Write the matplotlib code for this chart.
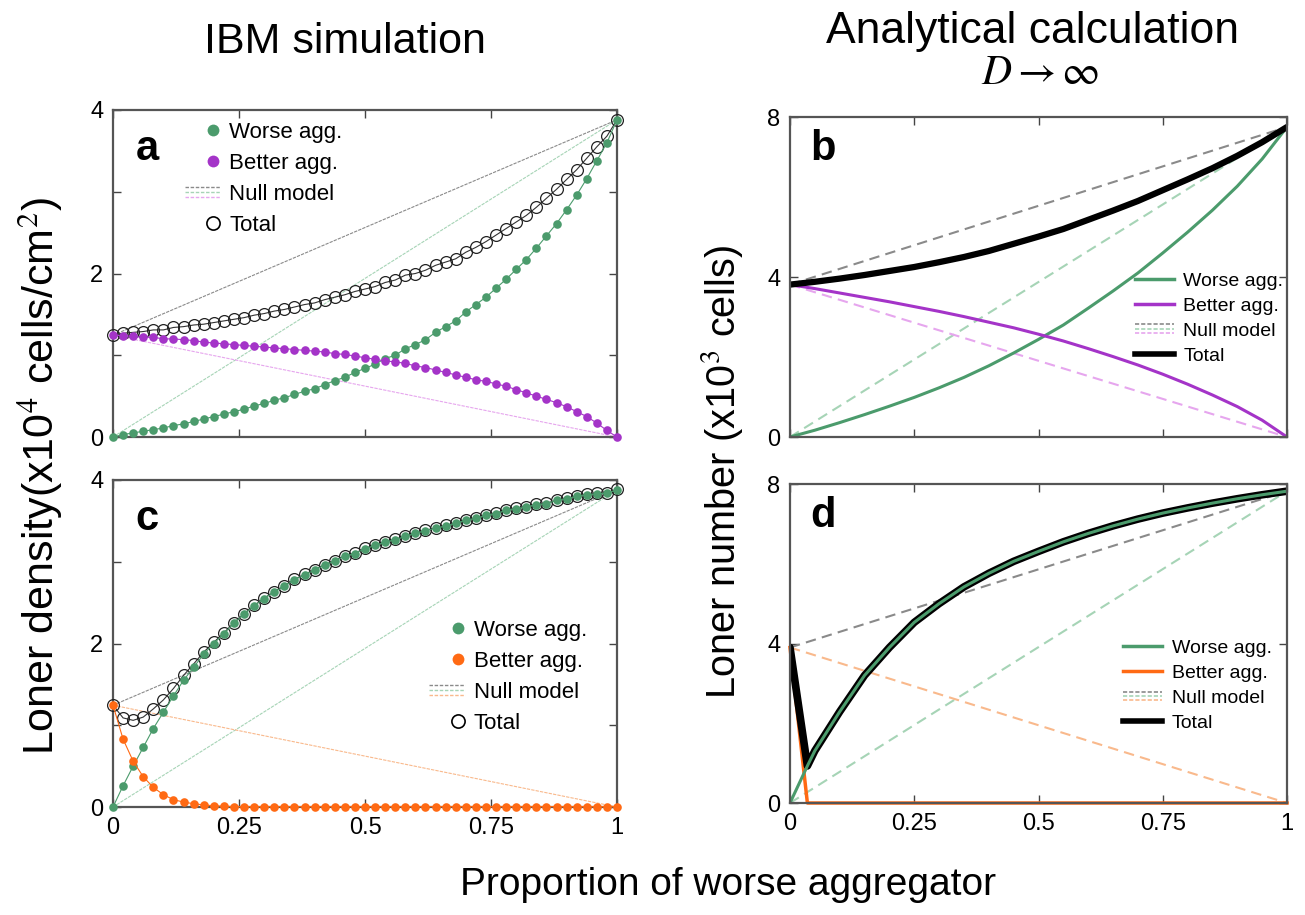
import numpy as np
import matplotlib
matplotlib.use('Agg')
import matplotlib.pyplot as plt
from matplotlib.lines import Line2D
from matplotlib.legend_handler import HandlerBase

plt.rcParams['font.family'] = ['Liberation Sans', 'DejaVu Sans']
plt.rcParams['mathtext.fontset'] = 'stix'

# colours
green = '#4b9b6c'
purple = '#a434c8'
orange = '#ff6a14'
gray_null = '#8a8a8a'
green_null = '#a6d4b6'
purple_null = '#e6a6ee'
orange_null = '#f9b98c'

# ---- IBM simulation (a, c), 51 points from 0 to 1
x_ibm = np.linspace(0, 1, 51)

worse_a = [0.00, 0.03, 0.05, 0.07, 0.09, 0.11, 0.14, 0.16, 0.19, 0.22,
           0.25, 0.28, 0.31, 0.34, 0.38, 0.41, 0.45, 0.48, 0.52, 0.56,
           0.59, 0.64, 0.69, 0.73, 0.79, 0.84, 0.89, 0.96, 1.00, 1.08,
           1.13, 1.19, 1.28, 1.35, 1.42, 1.53, 1.62, 1.71, 1.82, 1.93,
           2.05, 2.17, 2.31, 2.46, 2.61, 2.78, 2.96, 3.16, 3.38, 3.60, 3.88]
better_a = [1.245, 1.24, 1.23, 1.22, 1.22, 1.20, 1.20, 1.19, 1.18, 1.16,
            1.15, 1.14, 1.13, 1.12, 1.11, 1.10, 1.09, 1.08, 1.07, 1.06,
            1.05, 1.04, 1.02, 1.01, 0.99, 0.97, 0.95, 0.93, 0.92, 0.90,
            0.87, 0.85, 0.82, 0.79, 0.76, 0.73, 0.70, 0.68, 0.65, 0.62,
            0.58, 0.54, 0.50, 0.46, 0.42, 0.37, 0.31, 0.25, 0.17, 0.08, 0.00]

worse_c = [0.00, 0.26, 0.50, 0.73, 0.96, 1.16, 1.36, 1.55, 1.71, 1.87,
           2.00, 2.12, 2.25, 2.36, 2.46, 2.55, 2.63, 2.70, 2.78, 2.84,
           2.90, 2.96, 3.01, 3.07, 3.10, 3.16, 3.20, 3.24, 3.27, 3.31,
           3.35, 3.38, 3.41, 3.44, 3.47, 3.51, 3.53, 3.57, 3.59, 3.63,
           3.65, 3.67, 3.70, 3.71, 3.75, 3.77, 3.80, 3.82, 3.83, 3.84, 3.88]
better_c = [1.245, 0.83, 0.56, 0.37, 0.24, 0.15, 0.09, 0.06, 0.04, 0.025,
            0.015, 0.01] + [0.005] * 39

total_a = np.array(worse_a) + np.array(better_a)
total_c = np.array(worse_c) + np.array(better_c)

# ---- analytical (b, d)
x_b = np.linspace(0, 1, 21)
worse_b = [0.00, 0.17, 0.36, 0.56, 0.77, 0.99, 1.23, 1.49, 1.78, 2.10,
           2.44, 2.80, 3.22, 3.65, 4.10, 4.60, 5.12, 5.67, 6.27, 6.95, 7.75]
better_b = [3.81, 3.71, 3.60, 3.49, 3.38, 3.26, 3.14, 3.01, 2.87, 2.73,
            2.57, 2.40, 2.21, 2.01, 1.80, 1.57, 1.32, 1.05, 0.76, 0.42, 0.00]
total_b = np.array(worse_b) + np.array(better_b)

x_d = [0, 0.035, 0.05, 0.1, 0.15, 0.2, 0.25, 0.3, 0.35, 0.4, 0.45, 0.5,
       0.55, 0.6, 0.65, 0.7, 0.75, 0.8, 0.85, 0.9, 0.95, 1.0]
worse_d = [0.00, 0.93, 1.31, 2.29, 3.20, 3.90, 4.53, 5.00, 5.42, 5.76, 6.06,
           6.31, 6.55, 6.76, 6.95, 7.12, 7.27, 7.40, 7.52, 7.63, 7.73, 7.82]
x_d_better = [0, 0.035, 1.0]
better_d = [3.90, 0.00, 0.00]
total_d = [3.90] + worse_d[1:]
null_d_start = 3.90


class NullModel:
    def __init__(self, colors):
        self.colors = colors


class NullHandler(HandlerBase):
    def __init__(self, lw=1.0, dashes=(2.5, 1.2), gap=0.32):
        super().__init__()
        self.lw = lw
        self.dashes = dashes
        self.gap = gap

    def create_artists(self, legend, orig_handle, xdescent, ydescent,
                       width, height, fontsize, trans):
        arts = []
        y0 = (height - ydescent) / 2
        for k, c in enumerate(orig_handle.colors):
            y = y0 + (1 - k) * height * self.gap
            l = Line2D([-xdescent, width - xdescent], [y, y], color=c,
                       lw=self.lw, dashes=self.dashes)
            l.set_transform(trans)
            arts.append(l)
        return arts


class MarkerRight(HandlerBase):
    # single marker sitting near the right end of the handle box
    def create_artists(self, legend, orig_handle, xdescent, ydescent,
                       width, height, fontsize, trans):
        x = 0.8 * width - xdescent
        y = (height - ydescent) / 2
        m = Line2D([x], [y], ls='', marker='o', ms=orig_handle.get_markersize(),
                   mfc=orig_handle.get_markerfacecolor(),
                   mec=orig_handle.get_markeredgecolor(),
                   mew=orig_handle.get_markeredgewidth())
        m.set_transform(trans)
        return [m]


W, H = 1305, 915
fig = plt.figure(figsize=(W / 100, H / 100), dpi=100)


def box(l, t, r, b):
    return [l / W, 1 - b / H, (r - l) / W, (b - t) / H]


ax_a = fig.add_axes(box(113, 110, 617, 437))
ax_c = fig.add_axes(box(113, 480, 617, 807))
ax_b = fig.add_axes(box(790, 117, 1287, 437))
ax_d = fig.add_axes(box(790, 484, 1287, 803))

for ax in [ax_a, ax_b, ax_c, ax_d]:
    ax.set_xlim(0, 1)
    ax.set_xticks([0, 0.25, 0.5, 0.75, 1])
    ax.tick_params(direction='in', top=True, right=True, length=6, width=1,
                   color='#444444', labelsize=17, pad=7)
    for s in ax.spines.values():
        s.set_color('#555555')
        s.set_linewidth(1.6)

for ax in [ax_a, ax_c]:
    ax.set_ylim(0, 4)
    ax.set_yticks([0, 1, 2, 3, 4])
    ax.set_yticklabels(['0', '', '2', '', '4'])
for ax in [ax_b, ax_d]:
    ax.set_ylim(0, 8)
    ax.set_yticks([0, 4, 8])
    ax.set_yticklabels(['0', '4', '8'])
for ax in [ax_a, ax_b]:
    ax.set_xticklabels([])
for ax in [ax_c, ax_d]:
    ax.set_xticklabels(['0', '0.25', '0.5', '0.75', '1'])


def ibm_panel(ax, worse, better, total, bcol, bnull, letter, leg_anchor):
    ax.plot([0, 1], [better[0], worse[-1]], color=gray_null, lw=0.8, dashes=(3, 1))
    ax.plot([0, 1], [0, worse[-1]], color=green_null, lw=0.8, dashes=(3, 1))
    ax.plot([0, 1], [better[0], 0], color=bnull, lw=0.8, dashes=(3, 1))
    ax.plot(x_ibm, total, color='#333333', lw=0.8, marker='o', ms=8.5,
            mfc='none', mec='#222222', mew=0.9, clip_on=False, zorder=3)
    ax.plot(x_ibm, worse, color=green, lw=0.8, marker='o', ms=6.2,
            mec='none', clip_on=False, zorder=4)
    ax.plot(x_ibm, better, color=bcol, lw=0.8, marker='o', ms=6.2,
            mec='none', clip_on=False, zorder=4)
    ax.text(0.045, 0.88, letter, transform=ax.transAxes, fontsize=30,
            fontweight='bold', va='center', ha='left')
    mk = [Line2D([], [], ls='', marker='o', ms=8.5, mfc=green, mec=green, mew=0),
          Line2D([], [], ls='', marker='o', ms=8.5, mfc=bcol, mec=bcol, mew=0),
          Line2D([], [], ls='', marker='o', ms=9.5, mfc='none', mec='black', mew=1.2)]
    handles = [mk[0], mk[1], NullModel([gray_null, green_null, bnull]), mk[2]]
    hmap = {NullModel: NullHandler(lw=1.0, dashes=(2.5, 1.2))}
    for h in mk:
        hmap[h] = MarkerRight()
    ax.legend(handles, ['Worse agg.', 'Better agg.', 'Null model', 'Total'],
              handler_map=hmap, loc='upper left', bbox_to_anchor=leg_anchor,
              frameon=False, fontsize=16, handlelength=1.6, handletextpad=0.4,
              labelspacing=0.45, borderaxespad=0)


ibm_panel(ax_a, worse_a, better_a, total_a, purple, purple_null, 'a', (0.125, 0.99))
ibm_panel(ax_c, worse_c, better_c, total_c, orange, orange_null, 'c', (0.61, 0.60))


def ana_legend(ax, bcol, bnull, anchor):
    handles = [Line2D([], [], color=green, lw=2.5),
               Line2D([], [], color=bcol, lw=2.5),
               NullModel([gray_null, green_null, bnull]),
               Line2D([], [], color='black', lw=4)]
    ax.legend(handles, ['Worse agg.', 'Better agg.', 'Null model', 'Total'],
              handler_map={NullModel: NullHandler(lw=1.2, dashes=(2.5, 1.2))},
              loc='upper left', bbox_to_anchor=anchor, frameon=False,
              fontsize=14, handlelength=2.0, handletextpad=0.5,
              labelspacing=0.38, borderaxespad=0)


# panel b
ax_b.plot([0, 1], [better_b[0], worse_b[-1]], color=gray_null, lw=1.5, dashes=(5, 3))
ax_b.plot([0, 1], [0, worse_b[-1]], color=green_null, lw=1.5, dashes=(5, 3))
ax_b.plot([0, 1], [better_b[0], 0], color=purple_null, lw=1.5, dashes=(5, 3))
ax_b.plot(x_b, worse_b, color=green, lw=2.2)
ax_b.plot(x_b, better_b, color=purple, lw=2.2)
ax_b.plot(x_b, total_b, color='black', lw=4.5, solid_capstyle='round')
ax_b.text(0.04, 0.9, 'b', transform=ax_b.transAxes, fontsize=30,
          fontweight='bold', va='center', ha='left')
ana_legend(ax_b, purple, purple_null, (0.678, 0.54))

# panel d
ax_d.plot([0, 1], [null_d_start, worse_d[-1]], color=gray_null, lw=1.5, dashes=(5, 3))
ax_d.plot([0, 1], [0, worse_d[-1]], color=green_null, lw=1.5, dashes=(5, 3))
ax_d.plot([0, 1], [null_d_start, 0], color=orange_null, lw=1.5, dashes=(5, 3))
ax_d.plot(x_d_better, better_d, color=orange, lw=2.5, clip_on=False)
ax_d.plot(x_d, total_d, color='black', lw=5.5, solid_capstyle='round')
ax_d.plot(x_d, worse_d, color=green, lw=2.2)
ax_d.text(0.04, 0.9, 'd', transform=ax_d.transAxes, fontsize=30,
          fontweight='bold', va='center', ha='left')
ana_legend(ax_d, orange, orange_null, (0.655, 0.538))

# titles and axis labels
fig.text(345 / W, 1 - 42 / H, 'IBM simulation', fontsize=31, ha='center', va='center')
fig.text(1032 / W, 1 - 32 / H, 'Analytical calculation', fontsize=32, ha='center', va='center')
fig.text(1040 / W, 1 - 73 / H, r'$D \rightarrow \infty$', fontsize=30, ha='center', va='center')
fig.text(40 / W, 1 - 476 / H, r'Loner density(x10$^4$ cells/cm$^2$)', fontsize=31,
         rotation=90, ha='center', va='center')
fig.text(722 / W, 1 - 472 / H, r'Loner number (x10$^3$ cells)', fontsize=28.5,
         rotation=90, ha='center', va='center')
fig.text(728 / W, 1 - 885 / H, 'Proportion of worse aggregator', fontsize=28,
         ha='center', va='center')

fig.savefig('out.png', dpi=100)
